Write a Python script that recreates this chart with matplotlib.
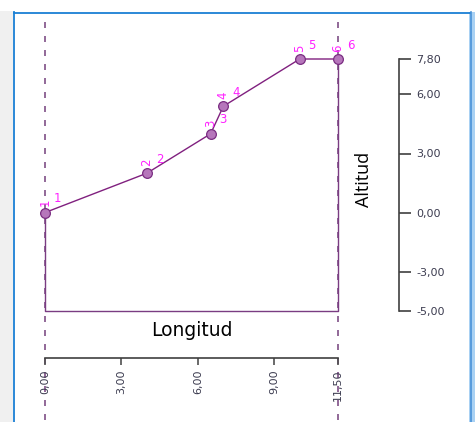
import matplotlib.pyplot as plt
from matplotlib.lines import Line2D
from matplotlib.patches import Rectangle

# datos del perfil
puntos = ['1', '2', '3', '4', '5', '6']
longitud = [0.0, 4.0, 6.5, 7.0, 10.0, 11.5]
altitud = [0.0, 2.0, 4.0, 5.4, 7.8, 7.8]
base = -5.0
ticks_x = [0.0, 3.0, 6.0, 9.0, 11.5]
ticks_y = [-5.0, -3.0, 0.0, 3.0, 6.0, 7.8]

W, H = 475, 422
fig = plt.figure(figsize=(W / 100, H / 100), dpi=100)
fig.patch.set_facecolor('white')

# marco de la ventana
fig.patches.append(Rectangle((0, 0), 13 / W, (H - 11) / H, transform=fig.transFigure,
                             facecolor='#f0f0f0', edgecolor='none', zorder=0))
fig.lines.append(Line2D([13.5 / W, 13.5 / W], [0, (H - 12) / H], transform=fig.transFigure,
                        color='#1a7fd4', lw=1.3))
fig.lines.append(Line2D([13.5 / W, 470 / W], [(H - 12.5) / H, (H - 12.5) / H],
                        transform=fig.transFigure, color='#1a7fd4', lw=1.3))
fig.patches.append(Rectangle((469 / W, 0), 6 / W, (H - 12) / H, transform=fig.transFigure,
                             facecolor='#a9d1f3', edgecolor='none', zorder=0))
fig.lines.append(Line2D([471 / W, 471 / W], [0, (H - 12) / H], transform=fig.transFigure,
                        color='#4a92d8', lw=1.2))

# ejes: x 0..11.5 -> px 45..338, y -5..7.8 -> px 311..59
ax = fig.add_axes([45 / W, 1 - 311 / H, 293 / W, 252 / H])
ax.set_xlim(ticks_x[0], ticks_x[-1])
ax.set_ylim(base, max(ticks_y))
ax.patch.set_alpha(0)

for s in ['top', 'left']:
    ax.spines[s].set_visible(False)
ax.spines['bottom'].set_position(('outward', 47 * 0.72))
ax.spines['right'].set_position(('outward', 61 * 0.72))
for s in ['bottom', 'right']:
    ax.spines[s].set_color('#404040')
    ax.spines[s].set_linewidth(1.2)

fmt = lambda v: f'{v:.2f}'.replace('.', ',')
ax.set_xticks(ticks_x)
ax.set_xticklabels([fmt(v) for v in ticks_x], rotation=90, fontsize=8, color='#3c3c50',
                   family='DejaVu Sans')
ax.tick_params(axis='x', direction='out', length=5, width=1.2, color='#505050', pad=3)
ax.yaxis.tick_right()
ax.set_yticks(ticks_y)
ax.set_yticklabels([fmt(v) for v in ticks_y], fontsize=8, color='#3c3c50',
                   family='DejaVu Sans')
ax.tick_params(axis='y', direction='out', length=8.5, width=1.2, color='#404040', pad=4)

# líneas discontinuas en los extremos
for xv in [longitud[0], longitud[-1]]:
    ax.axvline(xv, ymin=-0.433, ymax=1.155, color='#7f4f86', lw=1.2,
               linestyle=(0, (3.6, 4.8)), clip_on=False, zorder=1)

# contorno del perfil
ax.plot([longitud[-1], longitud[-1], longitud[0], longitud[0]],
        [altitud[-1], base, base, altitud[0]], color='#7a3c82', lw=1.0, zorder=2,
        clip_on=False)
ax.plot(longitud, altitud, color='#80207f', lw=1.0, zorder=3, clip_on=False,
        marker='o', markersize=7, markerfacecolor='#b676bb', markeredgecolor='#7a2d82',
        markeredgewidth=0.9)

for lab, xv, yv in zip(puntos, longitud, altitud):
    ax.annotate(lab, (xv, yv), xytext=(0, 5), textcoords='offset points',
                rotation=90, ha='center', va='bottom', color='#ff22ff', fontsize=8.5,
                family='DejaVu Sans', annotation_clip=False)
    ax.annotate(lab, (xv, yv), xytext=(9, 10), textcoords='offset points',
                ha='center', va='center', color='#ff22ff', fontsize=8.5,
                family='DejaVu Sans', annotation_clip=False)

ax.text(0.5, -20 / 252, 'Longitud', transform=ax.transAxes, ha='center', va='center',
        fontsize=13.5, color='black', family='DejaVu Sans')
ax.text(1 + 26 / 293, (311 - 179) / 252, 'Altitud', transform=ax.transAxes,
        ha='center', va='center', rotation=90, fontsize=13, color='black',
        family='Open Sans')

fig.savefig('out.png', dpi=100)
